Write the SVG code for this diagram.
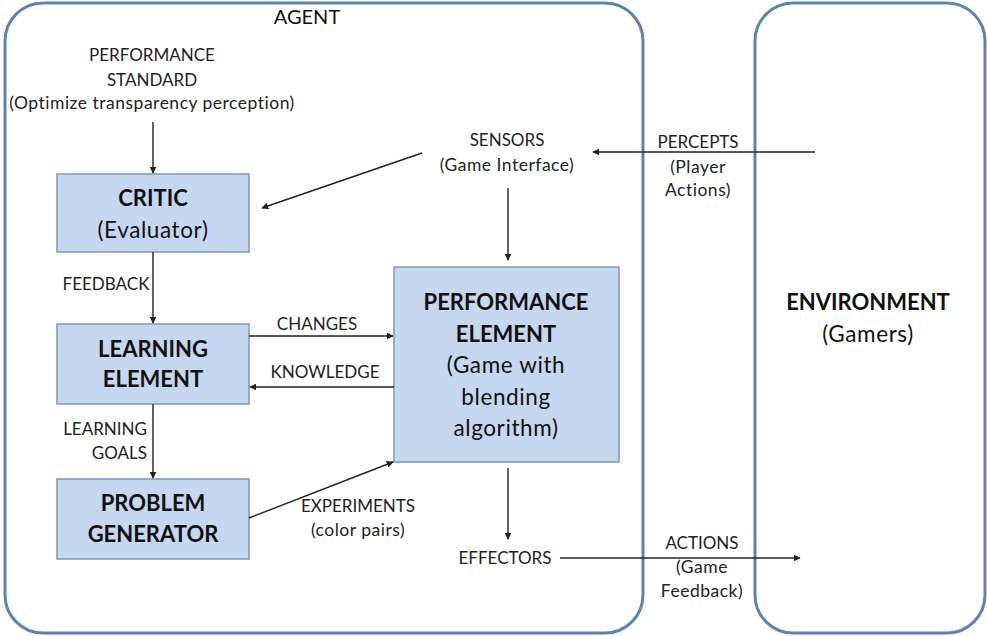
<svg xmlns="http://www.w3.org/2000/svg" width="987" height="636" viewBox="0 0 987 636">
<style>
.frame{fill:#fff;stroke:#5B84B4;stroke-width:3}
.box{fill:#C6D8EF;stroke:#7C98BC;stroke-width:1.5}
.t{font-family:Lato,"Open Sans","Liberation Sans",sans-serif;font-size:17px;fill:#222;text-anchor:middle}
.m{font-size:17.5px;letter-spacing:0.5px}
.b{font-family:Lato,"Open Sans","Liberation Sans",sans-serif;font-size:22px;font-weight:bold;fill:#111;text-anchor:middle}
.n{font-family:Lato,"Open Sans","Liberation Sans",sans-serif;font-size:22.5px;letter-spacing:0.6px;fill:#111;text-anchor:middle}
.c{stroke:#222;stroke-width:1.4;fill:none;marker-end:url(#ah)}
</style>
<defs>
<marker id="ah" viewBox="0 0 10 10" refX="9" refY="5" markerWidth="7" markerHeight="7" orient="auto" markerUnits="userSpaceOnUse"><path d="M0,0 L10,5 L0,10 z" fill="#222"/></marker>
</defs>
<rect width="987" height="636" fill="#fff"/>
<g id="agent">
<rect class="frame" x="5" y="3" width="638" height="630" rx="38"/>
<text class="n" x="307" y="24" style="font-size:20px;letter-spacing:0">AGENT</text>
</g>
<g id="environment">
<rect class="frame" x="755" y="3" width="230" height="630" rx="38"/>
<text class="b" x="868" y="310">ENVIRONMENT</text>
<text class="n" x="868" y="342">(Gamers)</text>
</g>
<g id="performance-standard">
<text class="t" x="152" y="61">PERFORMANCE</text>
<text class="t" x="152" y="86">STANDARD</text>
<text class="t m" x="152" y="109">(Optimize transparency perception)</text>
</g>
<g id="sensors">
<text class="t" x="507" y="146">SENSORS</text>
<text class="t m" x="507" y="171">(Game Interface)</text>
</g>
<g id="effectors">
<text class="t" x="505" y="564">EFFECTORS</text>
</g>
<g id="critic">
<rect class="box" x="57" y="174" width="192" height="78"/>
<text class="b" x="153" y="206">CRITIC</text>
<text class="n" x="153" y="238">(Evaluator)</text>
</g>
<g id="learning-element">
<rect class="box" x="57" y="324" width="192" height="80"/>
<text class="b" x="153" y="357">LEARNING</text>
<text class="b" x="153" y="387">ELEMENT</text>
</g>
<g id="problem-generator">
<rect class="box" x="57" y="479" width="192" height="80"/>
<text class="b" x="153" y="511">PROBLEM</text>
<text class="b" x="153" y="542">GENERATOR</text>
</g>
<g id="performance-element">
<rect class="box" x="394" y="267" width="225" height="195"/>
<text class="b" x="506" y="310">PERFORMANCE</text>
<text class="b" x="506" y="342">ELEMENT</text>
<text class="n" x="506" y="373">(Game with</text>
<text class="n" x="506" y="405">blending</text>
<text class="n" x="506" y="436">algorithm)</text>
</g>
<g id="connectors">
<line class="c" x1="153" y1="122" x2="153" y2="173"/>
<line class="c" x1="422" y1="153" x2="262" y2="208"/>
<line class="c" x1="815" y1="152" x2="593" y2="152"/>
<line class="c" x1="508" y1="188" x2="508" y2="260"/>
<line class="c" x1="153" y1="252" x2="153" y2="323"/>
<line class="c" x1="249" y1="336" x2="393" y2="336"/>
<line class="c" x1="394" y1="387" x2="250" y2="387"/>
<line class="c" x1="153" y1="404" x2="153" y2="478"/>
<line class="c" x1="249" y1="518" x2="393" y2="462"/>
<line class="c" x1="508" y1="468" x2="508" y2="539"/>
<line class="c" x1="560" y1="558" x2="800" y2="558"/>
<text class="t" x="106" y="290">FEEDBACK</text>
<text class="t" x="317" y="330">CHANGES</text>
<text class="t" x="325" y="378">KNOWLEDGE</text>
<text class="t" x="147" y="435" style="text-anchor:end">LEARNING</text>
<text class="t" x="147" y="459" style="text-anchor:end">GOALS</text>
<text class="t" x="358" y="512">EXPERIMENTS</text>
<text class="t m" x="358" y="536">(color pairs)</text>
<text class="t" x="698" y="148">PERCEPTS</text>
<text class="t m" x="698" y="173">(Player</text>
<text class="t m" x="698" y="196">Actions)</text>
<text class="t" x="702" y="549">ACTIONS</text>
<text class="t m" x="702" y="573">(Game</text>
<text class="t m" x="702" y="597">Feedback)</text>
</g>
</svg>
